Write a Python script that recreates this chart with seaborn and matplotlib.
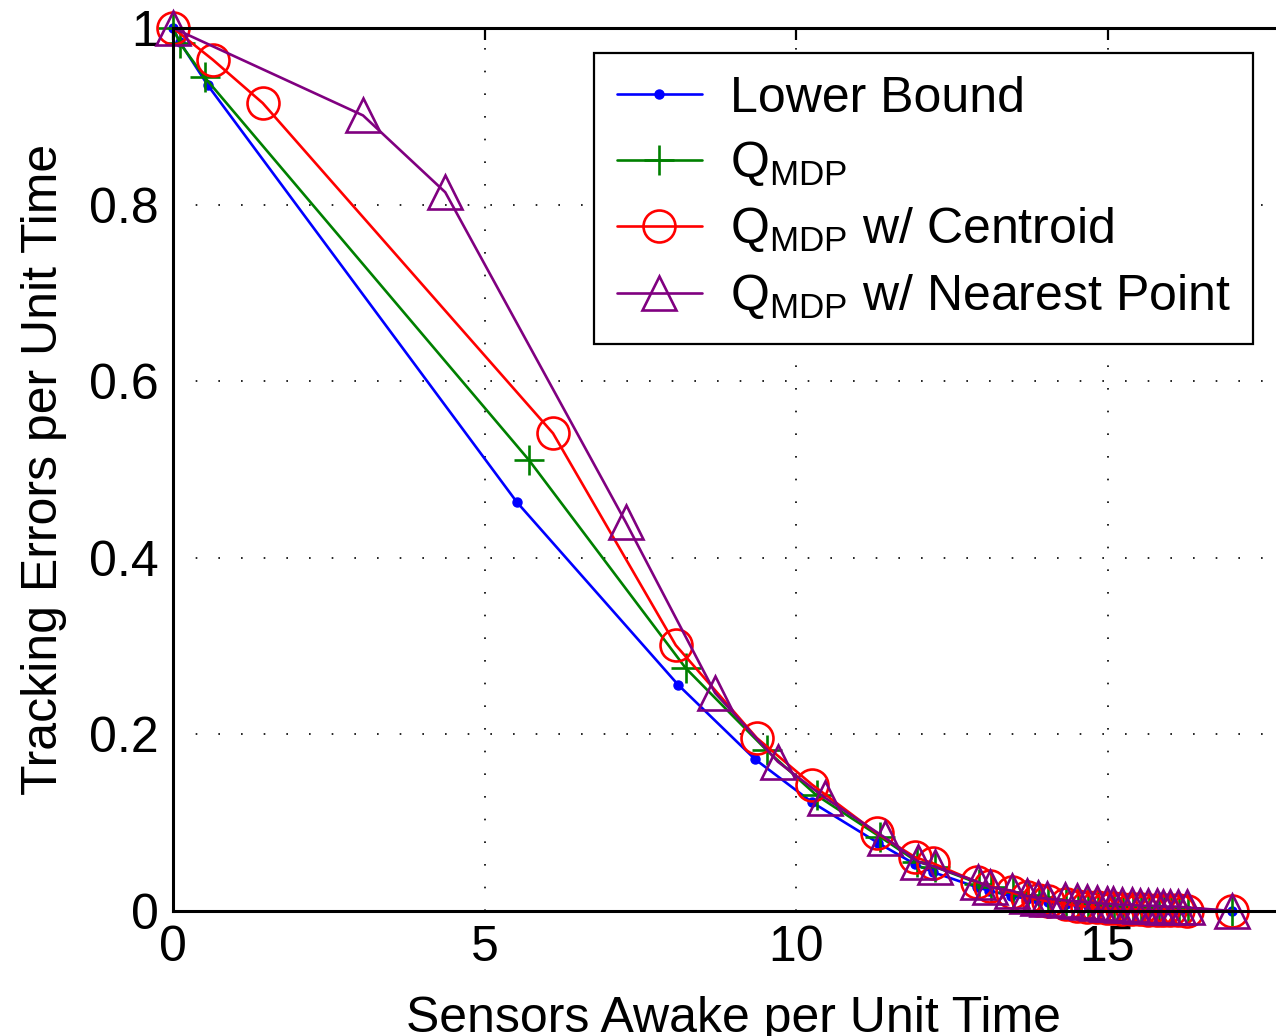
import numpy as np
import pandas as pd
import matplotlib
matplotlib.use("Agg")
import matplotlib.pyplot as plt
import seaborn as sns

# ---------------- data ----------------
lb_x = [0.0, 0.11, 0.56, 5.52, 8.11, 9.34, 10.26, 11.32, 11.91, 12.20, 12.90, 13.10,
        13.45, 13.70, 13.88, 14.05, 14.33, 14.52, 14.68, 14.84, 15.00, 15.10, 15.24,
        15.40, 15.53, 15.66, 15.81, 15.90, 16.01, 16.14, 16.28, 17.0]
lb_y = [1.0, 0.984, 0.935, 0.463, 0.256, 0.172, 0.123, 0.077, 0.053, 0.044, 0.027, 0.023,
        0.017, 0.014, 0.012, 0.010, 0.008, 0.007, 0.006, 0.005, 0.004, 0.004, 0.003,
        0.003, 0.002, 0.002, 0.002, 0.001, 0.001, 0.001, 0.001, 0.0]

qm_x = [0.0, 0.11, 0.51, 5.71, 8.23, 9.53, 10.33, 11.35, 11.94, 12.23, 12.94, 13.13,
        13.48, 13.72, 13.90, 14.05, 14.34, 14.52, 14.69, 14.85, 15.01, 15.10, 15.25,
        15.41, 15.54, 15.67, 15.82, 15.91, 16.02, 16.15, 16.30, 17.0]
qm_y = [1.0, 0.983, 0.944, 0.511, 0.275, 0.182, 0.131, 0.084, 0.056, 0.050, 0.031, 0.027,
        0.022, 0.018, 0.016, 0.014, 0.011, 0.010, 0.009, 0.008, 0.007, 0.007, 0.006,
        0.006, 0.005, 0.005, 0.004, 0.004, 0.004, 0.003, 0.003, 0.0]

qc_x = [0.0, 0.64, 1.44, 6.10, 8.07, 9.37, 10.26, 11.30, 11.91, 12.20, 12.90, 13.12,
        13.46, 13.71, 13.89, 14.04, 14.33, 14.51, 14.67, 14.83, 14.99, 15.09, 15.23,
        15.39, 15.52, 15.65, 15.80, 15.89, 16.00, 16.13, 16.28, 17.0]
qc_y = [1.0, 0.964, 0.915, 0.541, 0.301, 0.196, 0.143, 0.088, 0.061, 0.054, 0.033, 0.028,
        0.021, 0.016, 0.013, 0.011, 0.008, 0.006, 0.005, 0.004, 0.003, 0.003, 0.002,
        0.002, 0.002, 0.001, 0.001, 0.001, 0.001, 0.001, 0.000, 0.0]

qn_x = [0.0, 3.05, 4.37, 7.27, 8.70, 9.71, 10.47, 11.43, 11.96, 12.23, 12.92, 13.11,
        13.47, 13.70, 13.88, 14.03, 14.32, 14.51, 14.67, 14.83, 14.99, 15.09, 15.23,
        15.39, 15.52, 15.65, 15.80, 15.89, 16.00, 16.13, 16.28, 17.0]
qn_y = [1.0, 0.901, 0.814, 0.440, 0.247, 0.169, 0.128, 0.083, 0.056, 0.050, 0.033, 0.027,
        0.023, 0.017, 0.015, 0.014, 0.012, 0.011, 0.010, 0.009, 0.008, 0.008, 0.007,
        0.007, 0.006, 0.006, 0.006, 0.005, 0.005, 0.005, 0.004, 0.0]

labels = ["Lower Bound",
          r"Q$_{\mathrm{MDP}}$",
          r"Q$_{\mathrm{MDP}}$ w/ Centroid",
          r"Q$_{\mathrm{MDP}}$ w/ Nearest Point"]
xticks = [0, 5, 10, 15]
xtick_labels = ["0", "5", "10", "15"]
yticks = [0.0, 0.2, 0.4, 0.6, 0.8, 1.0]
ytick_labels = ["0", "0.2", "0.4", "0.6", "0.8", "1"]
xlabel = "Sensors Awake per Unit Time"
ylabel = "Tracking Errors per Unit Time"

# ---------------- style ----------------
sns.set_style("white")
plt.rcParams["font.family"] = ["Liberation Sans", "DejaVu Sans"]
plt.rcParams["mathtext.fontset"] = "custom"
plt.rcParams["mathtext.rm"] = "Liberation Sans"
plt.rcParams["mathtext.it"] = "Liberation Sans:italic"
plt.rcParams["mathtext.bf"] = "Liberation Sans:bold"
for k in ["text.color", "axes.labelcolor", "xtick.color", "ytick.color", "axes.edgecolor"]:
    plt.rcParams[k] = "black"
FS = 36

W, H = 1276, 1036
fig = plt.figure(figsize=(W / 100, H / 100), dpi=100)
x_per = 62.3
ax_right_px = 173 + 18 * x_per
ax = fig.add_axes([173 / W, (H - 911) / H, (ax_right_px - 173) / W, 883 / H])

series = [
    (lb_x, lb_y, dict(color="#0000ff", marker="o", markersize=6.5,
                      markerfacecolor="#0000ff", markeredgecolor="#0000ff",
                      markeredgewidth=1.0)),
    (qm_x, qm_y, dict(color="#008000", marker="+", markersize=21,
                      markerfacecolor="none", markeredgecolor="#008000",
                      markeredgewidth=1.9)),
    (qc_x, qc_y, dict(color="#ff0000", marker="o", markersize=23,
                      markerfacecolor="none", markeredgecolor="#ff0000",
                      markeredgewidth=1.9)),
    (qn_x, qn_y, dict(color="#800080", marker="^", markersize=24,
                      markerfacecolor="none", markeredgecolor="#800080",
                      markeredgewidth=1.9)),
]

for (xs, ys, kw), lab in zip(series, labels):
    df = pd.DataFrame({"x": xs, "y": ys})
    sns.lineplot(data=df, x="x", y="y", ax=ax, sort=False, estimator=None,
                 linewidth=1.9, label=lab, clip_on=False, **kw)

ax.set_xlim(0, 18)
ax.set_ylim(0, 1)
ax.set_xticks(xticks)
ax.set_xticklabels(xtick_labels, fontsize=FS)
ax.set_yticks(yticks)
ax.set_yticklabels(ytick_labels, fontsize=FS)
ax.tick_params(direction="in", length=8.6, width=1.6, top=True, right=True,
               colors="black", pad=10)
ax.grid(True, color="black", linestyle=(0, (1, 12.6)), linewidth=1.2)
ax.set_axisbelow(True)
for sp in ax.spines.values():
    sp.set_linewidth(2.2)
    sp.set_color("black")

ax.set_xlabel(xlabel, fontsize=FS, labelpad=18, color="black")
ax.set_ylabel(ylabel, fontsize=FS, labelpad=16, color="black")

handles, labs = ax.get_legend_handles_labels()
leg = ax.legend(handles, labs, loc="upper left",
                bbox_to_anchor=(594 / W, 1 - 53 / H), bbox_transform=fig.transFigure,
                borderaxespad=0, fontsize=FS, frameon=True, fancybox=False,
                framealpha=1, edgecolor="black", handlelength=1.7,
                handletextpad=0.56, labelspacing=0.35, borderpad=0.45, numpoints=1)
leg.get_frame().set_linewidth(1.6)
for t in leg.get_texts():
    t.set_color("black")

fig.savefig("out.png", dpi=100)
